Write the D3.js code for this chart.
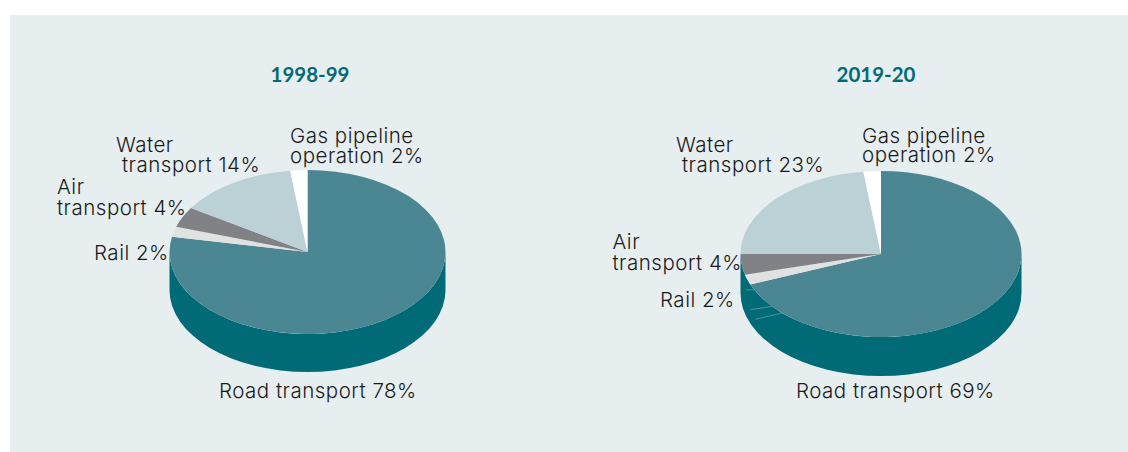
<!DOCTYPE html>
<html>
<head>
<meta charset="utf-8">
<script src="https://cdn.jsdelivr.net/npm/d3@7"></script>
<style>
html, body { margin: 0; padding: 0; background: #fff; }
svg { display: block; }
</style>
</head>
<body>
<div id="chart"></div>
<script>
const categories = ["Road transport", "Rail", "Air transport", "Water transport", "Gas pipeline operation"];
const values1998 = [78, 2, 4, 14, 2];
const values2019 = [69, 2, 4, 23, 2];
const periods = ["1998-99", "2019-20"];

const colors = ["#4b8693", "#e0e2e2", "#808285", "#bbd1d6", "#ffffff"];
const wallColor = "#006b77";

const width = 1128, height = 452;

// pie geometry and label placement, one entry per pie
const layouts = [
    {
        cx: 307.5, cy: 252, rx: 138, ry: 82, depth: 38, titleX: 310,
        labels: [
            [219, 398], [94, 260], [57, 194, 57, 215], [116, 152, 122, 172], [290, 143, 290, 163]
        ]
    },
    {
        cx: 881, cy: 254, rx: 140.5, ry: 83, depth: 39, titleX: 876,
        labels: [
            [796, 398], [660, 307], [612.5, 249, 612.5, 270], [676, 152, 682, 172], [862, 143, 862, 162]
        ]
    }
];

const svg = d3.select("#chart")
    .append("svg")
    .attr("width", width)
    .attr("height", height)
    .attr("viewBox", `0 0 ${width} ${height}`);

svg.append("rect")
    .attr("x", 10)
    .attr("y", 15)
    .attr("width", width - 10)
    .attr("height", height - 15)
    .attr("fill", "#e6eef0");

const pie = d3.pie().sort(null).value(d => d);

function labelLines(name, value) {
    if (name === "Air transport" || name === "Water transport") {
        return [name.split(" ")[0], `transport ${value}%`];
    }
    if (name === "Gas pipeline operation") {
        return ["Gas pipeline", `operation ${value}%`];
    }
    return [`${name} ${value}%`];
}

[values1998, values2019].forEach((values, i) => {
    const layout = layouts[i];
    const k = layout.ry / layout.rx;
    const arcs = pie(values);
    const arc = d3.arc().innerRadius(0).outerRadius(layout.rx);

    // the pie is drawn as a circle and squashed, depth is in squashed units
    const g = svg.append("g")
        .attr("transform", `translate(${layout.cx},${layout.cy}) scale(1,${k})`);

    const wall = d3.path();
    wall.arc(0, layout.depth / k, layout.rx, Math.PI, 0, true);
    wall.lineTo(layout.rx, 0);
    wall.arc(0, 0, layout.rx, 0, Math.PI, false);
    wall.closePath();
    g.append("path").attr("d", wall.toString()).attr("fill", wallColor);

    // edges of the slices on the underside show faintly through the wall
    const seams = arcs
        .map(d => d.endAngle)
        .filter(a => a > Math.PI / 2 && a < Math.PI * 3 / 2 + 0.001);
    g.selectAll("line.seam")
        .data(seams)
        .enter()
        .append("line")
        .attr("class", "seam")
        .attr("x1", a => Math.sin(a) * layout.rx * 0.96)
        .attr("y1", a => -Math.cos(a) * layout.rx * 0.96 + layout.depth * 0.92 / k)
        .attr("x2", 0)
        .attr("y2", layout.depth * 0.92 / k)
        .attr("stroke", "#6fa3ad")
        .attr("stroke-width", 0.7)
        .attr("vector-effect", "non-scaling-stroke");

    g.selectAll("path.slice")
        .data(arcs)
        .enter()
        .append("path")
        .attr("class", "slice")
        .attr("d", arc)
        .attr("fill", (d, j) => colors[j]);

    svg.append("text")
        .attr("x", layout.titleX)
        .attr("y", 82)
        .attr("text-anchor", "middle")
        .attr("font-family", "Lato, sans-serif")
        .attr("font-weight", "bold")
        .attr("font-size", 20.5)
        .attr("fill", wallColor)
        .text(periods[i]);

    categories.forEach((name, j) => {
        const pos = layout.labels[j];
        const label = svg.append("text")
            .attr("font-family", "Inter, sans-serif")
            .attr("font-weight", 300)
            .attr("font-size", 20.5)
            .attr("letter-spacing", 0.5)
            .attr("fill", "#1a1a1a");
        labelLines(name, values[j]).forEach((line, n) => {
            label.append("tspan")
                .attr("x", pos[n * 2])
                .attr("y", pos[n * 2 + 1])
                .text(line);
        });
    });
});
</script>
</body>
</html>
